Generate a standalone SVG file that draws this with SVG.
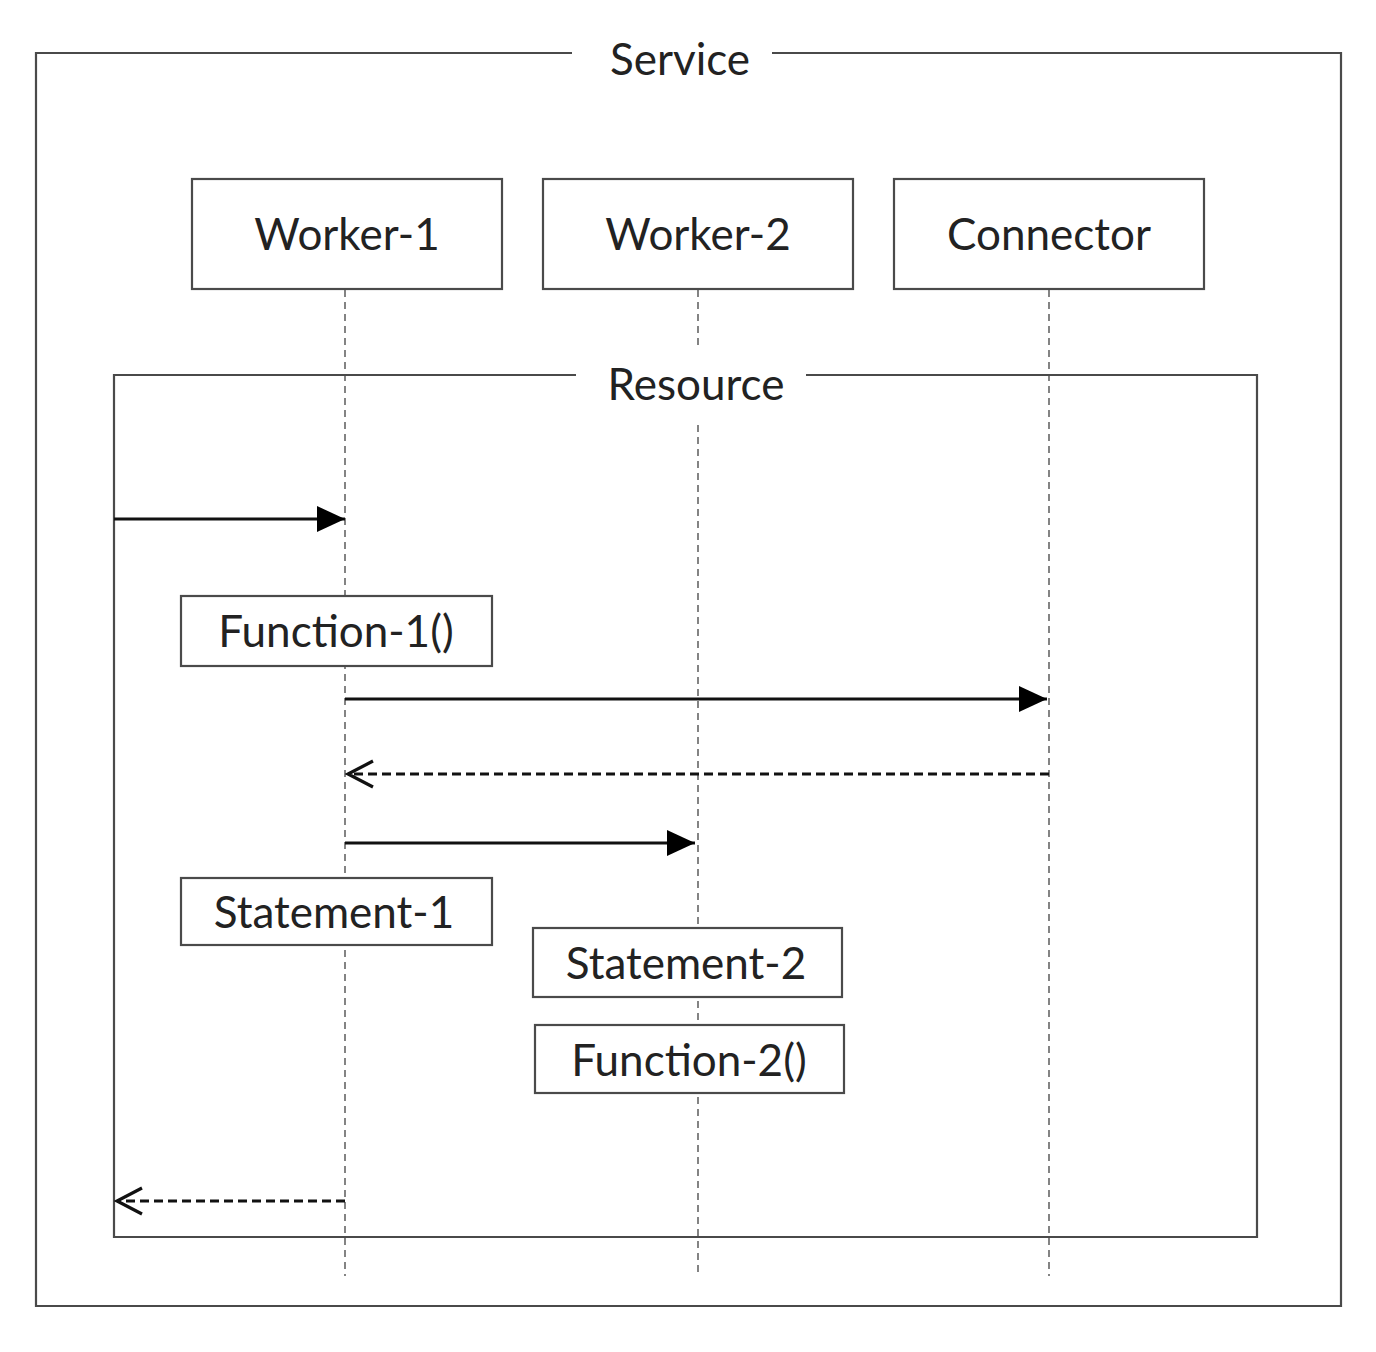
<svg xmlns="http://www.w3.org/2000/svg" width="1376" height="1352" viewBox="0 0 1376 1352">
<style>
.frame{fill:none;stroke:#4a4a4a;stroke-width:2.2}
.box{fill:#fff;stroke:#4a4a4a;stroke-width:2.2}
.life{stroke:#777;stroke-width:1.8;stroke-dasharray:7 5;fill:none}
.t{font-family:Lato,"Open Sans",sans-serif;font-size:44px;fill:#222;text-anchor:middle}
.msg{stroke:#111;stroke-width:3.2;fill:none;marker-end:url(#filled)}
.ret{stroke:#111;stroke-width:3.2;fill:none;stroke-dasharray:9 5;marker-end:url(#open)}
</style>
<defs>
<marker id="filled" viewBox="0 0 28 26" refX="28" refY="13" markerWidth="28" markerHeight="26" markerUnits="userSpaceOnUse" orient="auto"><path d="M0,0 L28,13 L0,26 z" fill="#000"/></marker>
<marker id="open" viewBox="0 0 30 30" refX="27" refY="15" markerWidth="30" markerHeight="30" markerUnits="userSpaceOnUse" orient="auto"><path d="M2,2 L27,15 L2,28" fill="none" stroke="#111" stroke-width="3.2" stroke-dasharray="none"/></marker>
</defs>
<rect width="1376" height="1352" fill="#fff"/>
<g id="service">
<path class="frame" d="M572,53 H36 V1306 H1341 V53 H772"/>
<text class="t" x="680" y="75">Service</text>
</g>
<g id="lifelines">
<line class="life" x1="345" y1="290" x2="345" y2="1276"/>
<line class="life" x1="698" y1="290" x2="698" y2="345"/>
<line class="life" x1="698" y1="425" x2="698" y2="1276"/>
<line class="life" x1="1049" y1="290" x2="1049" y2="1276"/>
</g>
<g id="resource">
<path class="frame" d="M576,375 H114 V1237 H1257 V375 H806"/>
<text class="t" x="696" y="400">Resource</text>
</g>
<g id="worker-1"><rect class="box" x="192" y="179" width="310" height="110"/><text class="t" x="347" y="250">Worker-1</text></g>
<g id="worker-2"><rect class="box" x="543" y="179" width="310" height="110"/><text class="t" x="698" y="250">Worker-2</text></g>
<g id="connector"><rect class="box" x="894" y="179" width="310" height="110"/><text class="t" x="1049" y="250">Connector</text></g>
<g id="function-1"><rect class="box" x="181" y="596" width="311" height="70"/><text class="t" x="336" y="647">Function-1()</text></g>
<g id="statement-1"><rect class="box" x="181" y="878" width="311" height="67"/><text class="t" x="334" y="928">Statement-1</text></g>
<g id="statement-2"><rect class="box" x="533" y="928" width="309" height="69"/><text class="t" x="686" y="979">Statement-2</text></g>
<g id="function-2"><rect class="box" x="535" y="1025" width="309" height="68"/><text class="t" x="689" y="1076">Function-2()</text></g>
<g id="connectors">
<line class="msg" x1="114" y1="519" x2="345" y2="519"/>
<line class="msg" x1="345" y1="699" x2="1047" y2="699"/>
<line class="ret" x1="1049" y1="774" x2="348" y2="774"/>
<line class="msg" x1="345" y1="843" x2="695" y2="843"/>
<line class="ret" x1="345" y1="1201" x2="117" y2="1201"/>
</g>
</svg>
